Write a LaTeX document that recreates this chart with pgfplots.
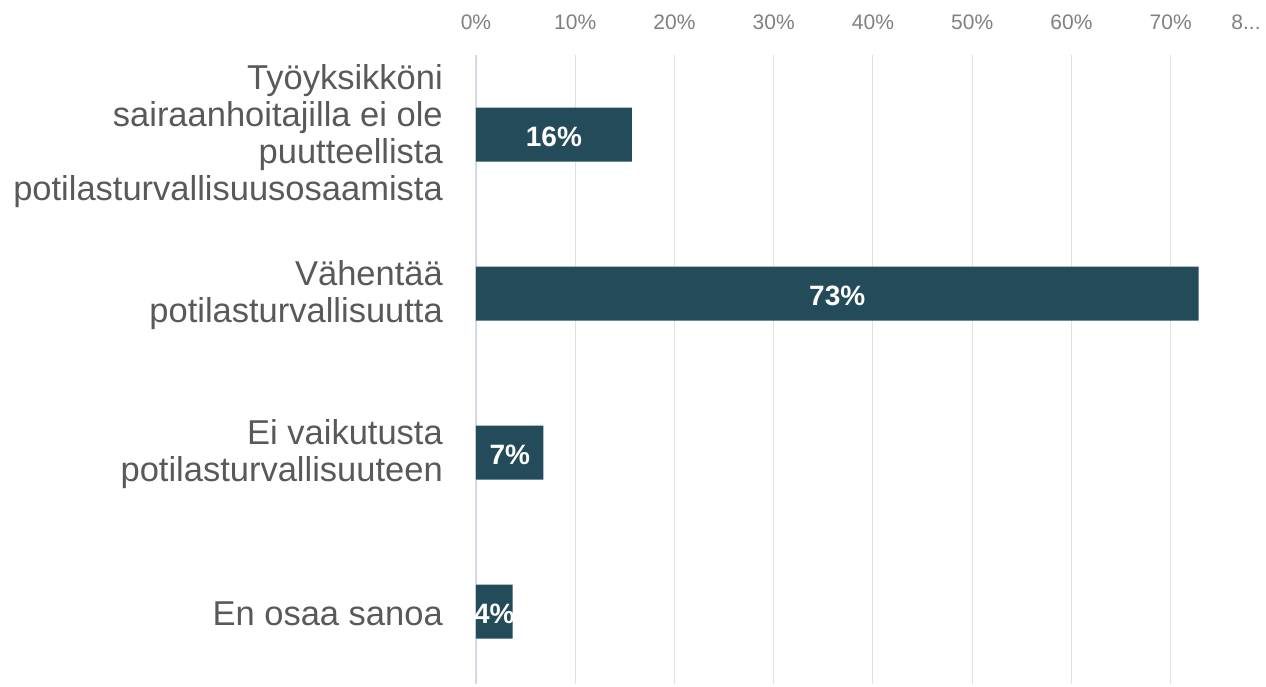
\documentclass[border=0pt]{standalone}
\usepackage{pgfplots}
\pgfplotsset{compat=1.18}
\usepackage{pgfplotstable}
\usepackage{fontspec}
\setmainfont{Liberation Sans}
\definecolor{barc}{HTML}{234B5A}
\definecolor{gridc}{HTML}{E0E0E0}
\definecolor{zeroc}{HTML}{CCD5E6}
\definecolor{labc}{HTML}{595959}
\definecolor{tickc}{HTML}{808080}
\pgfplotstableread{
y v lab
0 15.7 16
1 72.8 73
2 6.8 7
3 3.7 4
}\data
\begin{document}
\begin{tikzpicture}
\begin{axis}[
  at={(0,0)}, anchor=south west,
  scale only axis, width=794pt, height=629pt,
  xmin=0, xmax=80, ymin=-0.5, ymax=3.456, y dir=reverse,
  /pgf/number format/assume math mode=true,
  xtick={0,10,20,30,40,50,60,70},
  xticklabel={\pgfmathprintnumber{\tick}\%},
  xticklabel pos=upper,
  extra x ticks={80}, extra x tick labels={8{.}{.}{.}},
  extra x tick style={grid=none, xticklabel style={xshift=-24pt}},
  xmajorgrids, grid style={gridc, line width=1pt},
  axis line style={draw=none}, major tick length=0pt,
  xticklabel style={font=\fontsize{21}{24}\selectfont, text=tickc, anchor=south, yshift=22pt},
  ytick={0,1,2,3},
  yticklabels={{Työyksikköni\\sairaanhoitajilla ei ole\\puutteellista\\potilasturvallisuusosaamista},{Vähentää\\potilasturvallisuutta},{Ei vaikutusta\\potilasturvallisuuteen},{En osaa sanoa}},
  yticklabel style={align=right, font=\fontsize{34.5}{37}\selectfont, text=labc, inner sep=0pt, xshift=-33pt, yshift=-2pt},
]
\draw[zeroc, line width=1.5pt] (axis cs:0,-0.5) -- (axis cs:0,3.456);
\addplot[xbar, bar width=54pt, fill=barc, draw=none] table[x=v, y=y] {\data};
\addplot[draw=none, mark=none, nodes near coords={\pgfplotspointmeta\%}, point meta=explicit symbolic,
  every node near coord/.style={anchor=center, text=white, yshift=-2pt, font=\bfseries\fontsize{28}{30}\selectfont}]
  table[x expr=\thisrow{v}/2, y=y, meta=lab] {\data};
\coordinate (BL) at (axis cs:0,3.456);
\end{axis}
\pgfresetboundingbox
\path (BL) ++(-476pt,-2pt) rectangle ++(1266pt,686pt);
\end{tikzpicture}
\end{document}
